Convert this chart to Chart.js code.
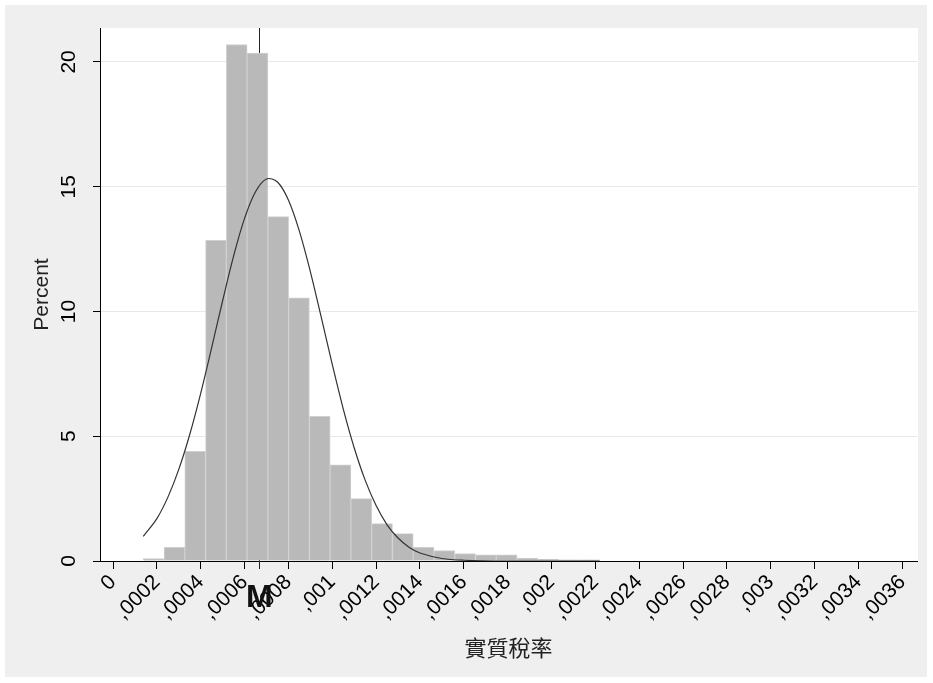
<!DOCTYPE html>
<html>
<head>
<meta charset="utf-8">
<script src="https://cdn.jsdelivr.net/npm/chart.js@4.4.0/dist/chart.umd.min.js"></script>
<style>
	html, body { margin: 0; padding: 0; background: #fff; }
	#wrap { width: 933px; height: 683px; }
</style>
</head>
<body>
<div id="wrap"><canvas id="chartHist" width="933" height="683"></canvas></div>
<script>
'use strict'

// histogram: centre of each bin and its share in percent
const binCenters = [0.0001855, 0.0002802, 0.0003749, 0.0004696, 0.0005643, 0.0006590, 0.0007537, 0.0008484,
	0.0009431, 0.0010378, 0.0011325, 0.0012272, 0.0013219, 0.0014166, 0.0015113, 0.0016060,
	0.0017007, 0.0017954, 0.0018901, 0.0019848, 0.0020795, 0.0021742]
const binPercent = [0.1, 0.55, 4.4, 12.85, 20.7, 20.35, 13.8, 10.55,
	5.8, 3.85, 2.5, 1.5, 1.1, 0.55, 0.42, 0.3,
	0.25, 0.25, 0.12, 0.07, 0.05, 0.05]

// normal density overlay
const curveX = [0.000138, 0.0002, 0.00025, 0.0003, 0.00035, 0.0004, 0.00045, 0.0005, 0.00055, 0.0006,
	0.00065, 0.0007, 0.00075, 0.0008, 0.00085, 0.0009, 0.00095, 0.001, 0.00105, 0.0011,
	0.00115, 0.0012, 0.00125, 0.0013, 0.00135, 0.0014, 0.0015, 0.0016, 0.0018, 0.00222]
const curveY = [0.99, 1.70, 2.55, 3.67, 5.07, 6.72, 8.55, 10.43, 12.22, 13.73,
	14.80, 15.31, 15.19, 14.47, 13.22, 11.60, 9.76, 7.88, 6.10, 4.54,
	3.24, 2.22, 1.45, 0.92, 0.55, 0.32, 0.10, 0.03, 0, 0]

const xTickValues = [0, 0.0002, 0.0004, 0.0006, 0.0008, 0.001, 0.0012, 0.0014, 0.0016, 0.0018,
	0.002, 0.0022, 0.0024, 0.0026, 0.0028, 0.003, 0.0032, 0.0034, 0.0036]
const xTickLabels = ['0', ',0002', ',0004', ',0006', ',0008', ',001', ',0012', ',0014', ',0016', ',0018',
	',002', ',0022', ',0024', ',0026', ',0028', ',003', ',0032', ',0034', ',0036']
const yTickValues = [0, 5, 10, 15, 20]
const meanValue = 0.000667
const meanLabel = 'M'

// grey panel + white plot region
const panelBackground = {
	id: 'panelBackground',
	beforeDraw(chart) {
		const { ctx, width, height, chartArea: { top, bottom, left, right } } = chart
		ctx.save()
		ctx.fillStyle = '#ffffff'
		ctx.fillRect(0, 0, width, height)
		ctx.fillStyle = '#efefef'
		ctx.fillRect(5, 5, width - 11, height - 11)
		ctx.fillStyle = '#ffffff'
		ctx.fillRect(left, top, right - left + 1, bottom - top)
		ctx.restore()
	},
}

// vertical mean line (behind the bars) and its label under the axis
const meanMarker = {
	id: 'meanMarker',
	beforeDatasetsDraw(chart) {
		const { ctx, chartArea: { top, bottom }, scales: { x } } = chart
		const px = Math.round(x.getPixelForValue(meanValue)) + 0.5
		ctx.save()
		ctx.strokeStyle = '#222'
		ctx.lineWidth = 1
		ctx.beginPath()
		ctx.moveTo(px, top)
		ctx.lineTo(px, bottom + 8)
		ctx.stroke()
		ctx.restore()
	},
	afterDraw(chart) {
		const { ctx, chartArea: { bottom }, scales: { x } } = chart
		ctx.save()
		ctx.font = 'bold 32px "Liberation Sans"'
		ctx.fillStyle = '#111'
		ctx.textAlign = 'center'
		ctx.textBaseline = 'alphabetic'
		ctx.fillText(meanLabel, x.getPixelForValue(meanValue), bottom + 46)
		ctx.restore()
	},
}

const tickFont = { family: 'Liberation Sans', size: 21 }

new Chart(document.getElementById('chartHist'), {
	type: 'bar',
	data: {
		datasets: [
			{
				type: 'line',
				order: 0,
				data: curveX.map((v, i) => ({ x: v, y: curveY[i] })),
				borderColor: '#333',
				borderWidth: 1.2,
				pointRadius: 0,
				tension: 0.35,
				fill: false,
			},
			{
				type: 'bar',
				order: 1,
				data: binCenters.map((v, i) => ({ x: v, y: binPercent[i] })),
				backgroundColor: '#b9b9b9',
				borderColor: '#d0d0d0',
				borderWidth: 1,
				barPercentage: 1,
				categoryPercentage: 1,
			},
		],
	},
	options: {
		responsive: false,
		animation: false,
		devicePixelRatio: 1,
		layout: { padding: { top: 28, right: 16, left: 0, bottom: 0 } },
		plugins: {
			legend: { display: false },
			tooltip: { enabled: false },
		},
		scales: {
			x: {
				type: 'linear',
				offset: false,
				min: -0.0000593,
				max: 0.003667,
				afterBuildTicks: (s) => { s.ticks = xTickValues.map(v => ({ value: v })) },
				afterFit: (s) => { s.height = 122 },
				ticks: {
					autoSkip: false,
					minRotation: 45,
					maxRotation: 45,
					padding: 1,
					color: '#000',
					font: tickFont,
					callback: (v, i) => xTickLabels[i],
				},
				grid: {
					offset: false,
					drawOnChartArea: false,
					tickLength: 8,
					color: '#000',
				},
				border: { color: '#000', width: 1 },
				title: {
					display: true,
					text: '實質稅率',
					color: '#222',
					font: { family: 'Noto Sans CJK TC', size: 22 },
					padding: { top: 0, bottom: 22 },
				},
			},
			y: {
				min: 0,
				max: 21.36,
				afterBuildTicks: (s) => { s.ticks = yTickValues.map(v => ({ value: v })) },
				afterFit: (s) => { s.width = 100 },
				ticks: {
					minRotation: 90,
					maxRotation: 90,
					crossAlign: 'center',
					padding: 12,
					color: '#000',
					font: tickFont,
				},
				grid: {
					color: '#e8e8e8',
					tickColor: '#000',
					tickLength: 7,
				},
				border: { color: '#000', width: 1 },
				title: {
					display: true,
					text: 'Percent',
					color: '#222',
					font: { family: 'Liberation Sans', size: 21 },
					padding: { top: 30 },
				},
			},
		},
	},
	plugins: [panelBackground, meanMarker],
})
</script>
</body>
</html>
